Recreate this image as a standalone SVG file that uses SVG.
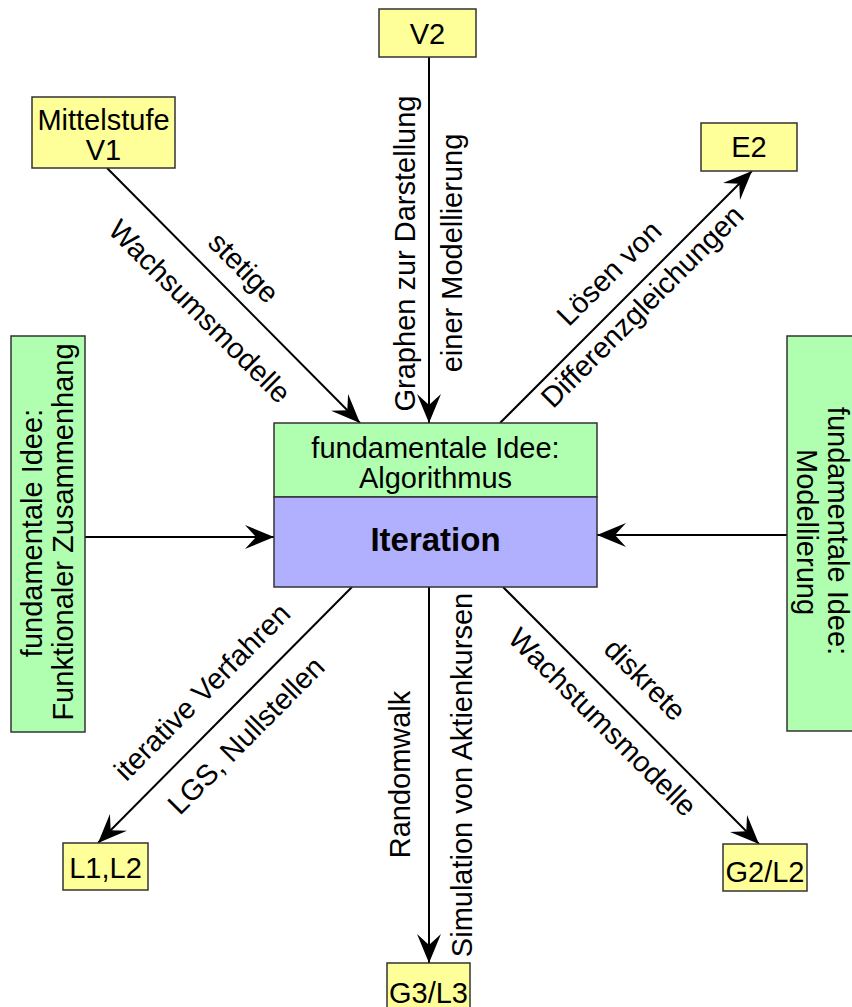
<svg xmlns="http://www.w3.org/2000/svg" width="852" height="1007" viewBox="0 0 852 1007">
<defs>
<style>
.t{font-family:"Liberation Sans",Arial,sans-serif;font-size:29px;fill:#000;text-anchor:middle}
.b{font-weight:bold;font-size:33px}
.y{fill:#ffff99;stroke:#333;stroke-width:1.5}
.g{fill:#b0ffb0;stroke:#333;stroke-width:1.5}
.p{fill:#b0b0ff;stroke:#333;stroke-width:1.5}
.c{stroke:#000;stroke-width:2;fill:none;marker-end:url(#ah)}
</style>
<marker id="ah" markerUnits="userSpaceOnUse" viewBox="-30 -13 31 26" markerWidth="31" markerHeight="26" refX="0" refY="0" orient="auto">
<path d="M0,0 L-29,-12 L-18,0 L-29,12 Z" fill="#000"/>
</marker>
</defs>
<rect width="852" height="1007" fill="#fff"/>

<g id="connectors">
<line class="c" x1="107" y1="168" x2="360" y2="423"/>
<line class="c" x1="429" y1="57" x2="429" y2="423"/>
<line class="c" x1="500" y1="423" x2="752" y2="171"/>
<line class="c" x1="85" y1="537" x2="274" y2="537"/>
<line class="c" x1="787" y1="535" x2="597" y2="535"/>
<line class="c" x1="352" y1="587" x2="98" y2="843"/>
<line class="c" x1="429" y1="587" x2="429" y2="963"/>
<line class="c" x1="503" y1="587" x2="759" y2="844"/>
<g transform="translate(224.6,286.6) rotate(45.2)">
<text class="t" x="0" y="-17">stetige</text>
<text class="t" x="0" y="45">Wachsumsmodelle</text>
</g>
<text class="t" transform="translate(415,253.5) rotate(-90)">Graphen zur Darstellung</text>
<text class="t" transform="translate(462,253) rotate(-90)">einer Modellierung</text>
<g transform="translate(629.4,293.6) rotate(-45)">
<text class="t" x="0" y="-19">Lösen von</text>
<text class="t" x="0" y="28">Differenzgleichungen</text>
</g>
<g transform="translate(224.7,714.3) rotate(-45.2)">
<text class="t" x="0" y="-22">iterative Verfahren</text>
<text class="t" x="0" y="40">LGS, Nullstellen</text>
</g>
<g transform="translate(620.4,704.4) rotate(45)">
<text class="t" x="0" y="-25">diskrete</text>
<text class="t" x="0" y="35">Wachstumsmodelle</text>
</g>
<text class="t" transform="translate(410,774.5) rotate(-90)">Randomwalk</text>
<text class="t" transform="translate(472,775) rotate(-90)">Simulation von Aktienkursen</text>
</g>

<g id="center">
<rect class="g" x="274" y="423" width="323" height="74"/>
<rect class="p" x="274" y="497" width="323" height="90"/>
<text class="t" x="435.5" y="458">fundamentale Idee:</text>
<text class="t" x="435.5" y="488">Algorithmus</text>
<text class="t b" x="435.5" y="551">Iteration</text>
</g>

<g id="v1">
<rect class="y" x="32" y="97" width="143" height="71"/>
<text class="t" x="103.5" y="130">Mittelstufe</text>
<text class="t" x="103.5" y="160">V1</text>
</g>

<g id="v2">
<rect class="y" x="379" y="9" width="97" height="48"/>
<text class="t" x="427.5" y="44">V2</text>
</g>

<g id="e2">
<rect class="y" x="701" y="123" width="96" height="48"/>
<text class="t" x="749" y="157">E2</text>
</g>

<g id="fz">
<rect class="g" x="11" y="336" width="74" height="396"/>
<text class="t" transform="translate(42,533) rotate(-90)">fundamentale Idee:</text>
<text class="t" transform="translate(73,532) rotate(-90)">Funktionaler Zusammenhang</text>
</g>

<g id="mod">
<rect class="g" x="787" y="336" width="74" height="395"/>
<text class="t" transform="translate(828,531) rotate(90)">fundamentale Idee:</text>
<text class="t" transform="translate(797,532) rotate(90)">Modellierung</text>
</g>

<g id="l1l2">
<rect class="y" x="63" y="843" width="85" height="47"/>
<text class="t" x="105.5" y="878">L1,L2</text>
</g>

<g id="g3l3">
<rect class="y" x="387" y="963" width="83" height="50"/>
<text class="t" x="428.5" y="1003">G3/L3</text>
</g>

<g id="g2l2">
<rect class="y" x="723" y="844" width="84" height="47"/>
<text class="t" x="765" y="882">G2/L2</text>
</g>
</svg>
